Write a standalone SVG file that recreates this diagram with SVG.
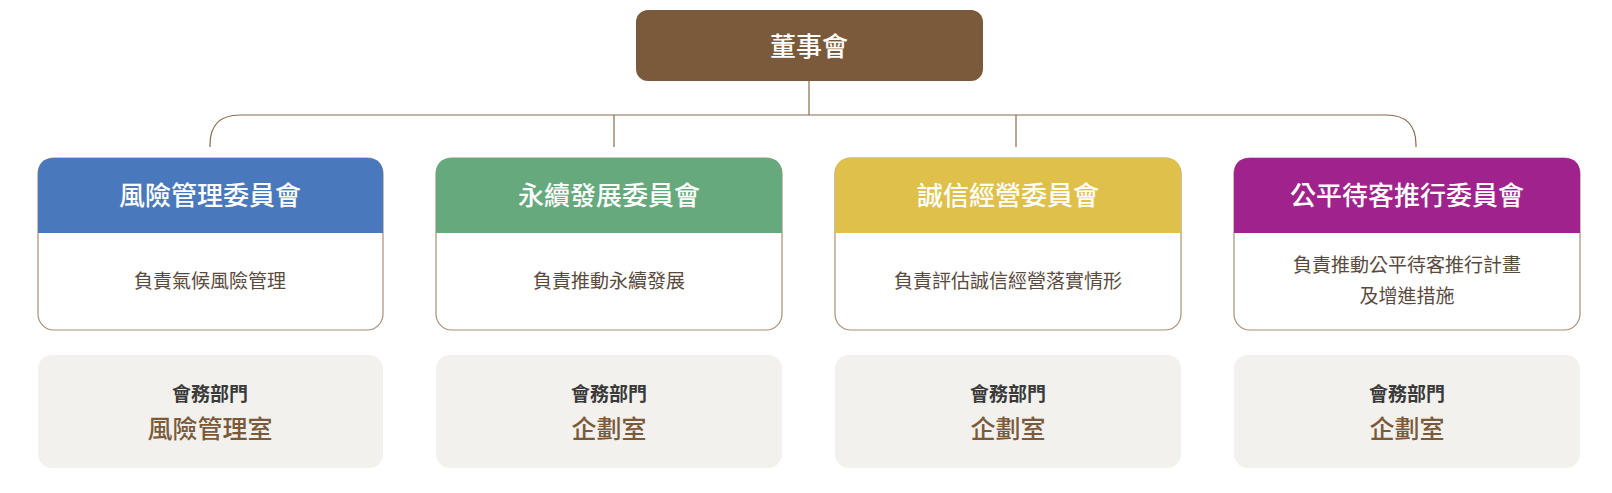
<svg xmlns="http://www.w3.org/2000/svg" width="1612" height="493" viewBox="0 0 1612 493">
<style>
text{font-family:"Noto Sans CJK TC","Noto Sans CJK SC",sans-serif;text-anchor:middle}
.hd{fill:#fff;font-size:26px;font-weight:500}
.bd{fill:#5a4a3e;font-size:19px}
.card{fill:#fff;stroke:#a88f78;stroke-width:1.2}
.bot{fill:#f3f1ed}
.l1{fill:#3a3a3a;font-size:19px;font-weight:700}
.l2{fill:#7a5a3a;font-size:25px;font-weight:500}
.cn{fill:none;stroke:#8a6a4e;stroke-width:1.2}
</style>
<rect width="1612" height="493" fill="#fff"/>
<g id="connectors">
<path class="cn" d="M809 81V115M210 147V145Q210 115 240 115H1386Q1416 115 1416 145V147M614 115V147M1016 115V147"/>
</g>
<g id="board"><rect x="636" y="10" width="347" height="71" rx="12" fill="#7a5a3a"/><text x="809" y="56" class="hd" font-size="28">董事會</text></g>
<g id="n1">
<rect class="card" x="38" y="158" width="345" height="172" rx="16"/>
<path d="M38 233V174Q38 158 54 158H367Q383 158 383 174V233Z" fill="#4a78bc"/>
<text x="210" y="205" class="hd">風險管理委員會</text>
<text x="210" y="288" class="bd">負責氣候風險管理</text>
</g>
<g id="n1b"><rect class="bot" x="38" y="355" width="345" height="113" rx="14"/><text x="210" y="401" class="l1">會務部門</text><text x="210" y="438" class="l2">風險管理室</text></g>
<g id="n2">
<rect class="card" x="436" y="158" width="346" height="172" rx="16"/>
<path d="M436 233V174Q436 158 452 158H766Q782 158 782 174V233Z" fill="#66a97c"/>
<text x="609" y="205" class="hd">永續發展委員會</text>
<text x="609" y="288" class="bd">負責推動永續發展</text>
</g>
<g id="n2b"><rect class="bot" x="436" y="355" width="346" height="113" rx="14"/><text x="609" y="401" class="l1">會務部門</text><text x="609" y="438" class="l2">企劃室</text></g>
<g id="n3">
<rect class="card" x="835" y="158" width="346" height="172" rx="16"/>
<path d="M835 233V174Q835 158 851 158H1165Q1181 158 1181 174V233Z" fill="#dfc04b"/>
<text x="1008" y="205" class="hd">誠信經營委員會</text>
<text x="1008" y="288" class="bd">負責評估誠信經營落實情形</text>
</g>
<g id="n3b"><rect class="bot" x="835" y="355" width="346" height="113" rx="14"/><text x="1008" y="401" class="l1">會務部門</text><text x="1008" y="438" class="l2">企劃室</text></g>
<g id="n4">
<rect class="card" x="1234" y="158" width="346" height="172" rx="16"/>
<path d="M1234 233V174Q1234 158 1250 158H1564Q1580 158 1580 174V233Z" fill="#a0228c"/>
<text x="1407" y="205" class="hd">公平待客推行委員會</text>
<text x="1407" y="272" class="bd">負責推動公平待客推行計畫</text>
<text x="1407" y="303" class="bd">及增進措施</text>
</g>
<g id="n4b"><rect class="bot" x="1234" y="355" width="346" height="113" rx="14"/><text x="1407" y="401" class="l1">會務部門</text><text x="1407" y="438" class="l2">企劃室</text></g>
</svg>
